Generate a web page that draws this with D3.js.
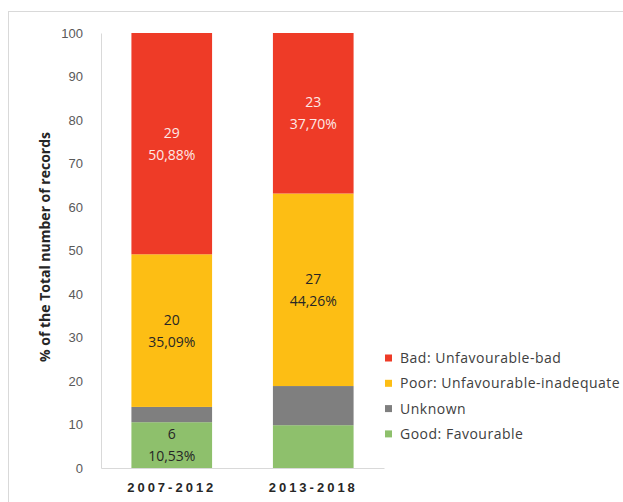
<!DOCTYPE html>
<html>
<head>
<meta charset="utf-8">
<script src="https://cdn.jsdelivr.net/npm/d3@7"></script>
<style>
  body { margin: 0; background: #fff; }
  svg { display: block; font-family: "Open Sans", sans-serif; }
</style>
</head>
<body>
<div id="chart"></div>
<script>
var categories = ["2007-2012", "2013-2018"];
var seriesNames = ["Good: Favourable", "Unknown", "Poor: Unfavourable-inadequate", "Bad: Unfavourable-bad"];
var seriesColors = ["#8ec06c", "#7f7f7f", "#fdbe14", "#ee3b27"];

// percentages, bottom to top
var goodPct = [10.53, 9.84];
var unknownPct = [3.51, 9.0];
var poorPct = [35.09, 44.26];
var badPct = [50.88, 37.70];

// record counts shown in the labels (null = no label)
var goodCount = [6, null];
var unknownCount = [null, null];
var poorCount = [20, 27];
var badCount = [29, 23];

var yTicks = [0, 10, 20, 30, 40, 50, 60, 70, 80, 90, 100];

var width = 623, height = 502;
var svg = d3.select("#chart").append("svg")
    .attr("width", width)
    .attr("height", height);

// chart border
svg.append("rect")
    .attr("x", 8.5).attr("y", 11.5)
    .attr("width", 700).attr("height", 520)
    .attr("fill", "none")
    .attr("stroke", "#d9d9d9");

var plot = { left: 101, right: 384, top: 33, bottom: 468 };

var x = d3.scaleBand()
    .domain(categories)
    .range([plot.left, plot.right])
    .paddingInner(0.43)
    .paddingOuter(0.215);

var y = d3.scaleLinear()
    .domain([0, 100])
    .range([plot.bottom, plot.top])
    .clamp(true);

var pctSeries = [goodPct, unknownPct, poorPct, badPct];
var countSeries = [goodCount, unknownCount, poorCount, badCount];

var rows = categories.map(function(c, i) {
    var r = { cat: c };
    seriesNames.forEach(function(s, k) { r[s] = pctSeries[k][i]; });
    return r;
});

var stack = d3.stack().keys(seriesNames)(rows);

// y axis
var yAxis = svg.append("g")
    .attr("transform", "translate(" + plot.left + ",0)")
    .call(d3.axisLeft(y).tickValues(yTicks).tickSize(0).tickPadding(18));
yAxis.select(".domain").attr("stroke", "#d9d9d9");
yAxis.selectAll("text")
    .attr("fill", "#595959")
    .style("font-size", "13px");

// x axis
var xAxis = svg.append("g")
    .attr("transform", "translate(0," + plot.bottom + ")")
    .call(d3.axisBottom(x).tickSize(0).tickPadding(15));
xAxis.select(".domain").attr("stroke", "#d9d9d9");
xAxis.selectAll("text")
    .attr("fill", "#262626")
    .style("font-size", "13px")
    .style("font-weight", "bold")
    .style("letter-spacing", "3px");

// axis title
svg.append("text")
    .attr("transform", "translate(50," + 247 + ") rotate(-90)")
    .attr("text-anchor", "middle")
    .attr("fill", "#262626")
    .style("font-size", "14px")
    .style("font-weight", "bold")
    .text("% of the Total number of records");

// bars
var layers = svg.append("g").selectAll("g")
    .data(stack)
    .join("g")
    .attr("fill", function(d, k) { return seriesColors[k]; });

layers.selectAll("rect")
    .data(function(d) { return d; })
    .join("rect")
    .attr("x", function(d) { return x(d.data.cat); })
    .attr("width", x.bandwidth())
    .attr("y", function(d) { return y(d[1]); })
    .attr("height", function(d) { return y(d[0]) - y(d[1]); });

// data labels
stack.forEach(function(layer, k) {
    layer.forEach(function(d, i) {
        var n = countSeries[k][i];
        if (n === null) return;
        var cx = x(d.data.cat) + x.bandwidth() / 2;
        var cy = (y(d[0]) + y(d[1])) / 2;
        var color = k === 3 ? "#fde9e6" : "#262626";
        var t = svg.append("text")
            .attr("text-anchor", "middle")
            .attr("fill", color)
            .style("font-size", "14px");
        t.append("tspan").attr("x", cx).attr("y", cy - 6).text(n);
        t.append("tspan").attr("x", cx).attr("y", cy + 16)
            .text(pctSeries[k][i].toFixed(2).replace(".", ",") + "%");
    });
});

// legend
var legendOrder = [3, 2, 1, 0];
var legend = svg.append("g").selectAll("g")
    .data(legendOrder)
    .join("g")
    .attr("transform", function(k, j) { return "translate(385," + (358 + j * 25.3) + ")"; });

legend.append("rect")
    .attr("x", 0).attr("y", -3.5)
    .attr("width", 7).attr("height", 7)
    .attr("fill", function(k) { return seriesColors[k]; });

legend.append("text")
    .attr("x", 15).attr("y", 0)
    .attr("dy", "0.35em")
    .attr("fill", "#404040")
    .style("font-size", "14px")
    .style("letter-spacing", "0.5px")
    .text(function(k) { return seriesNames[k]; });
</script>
</body>
</html>
